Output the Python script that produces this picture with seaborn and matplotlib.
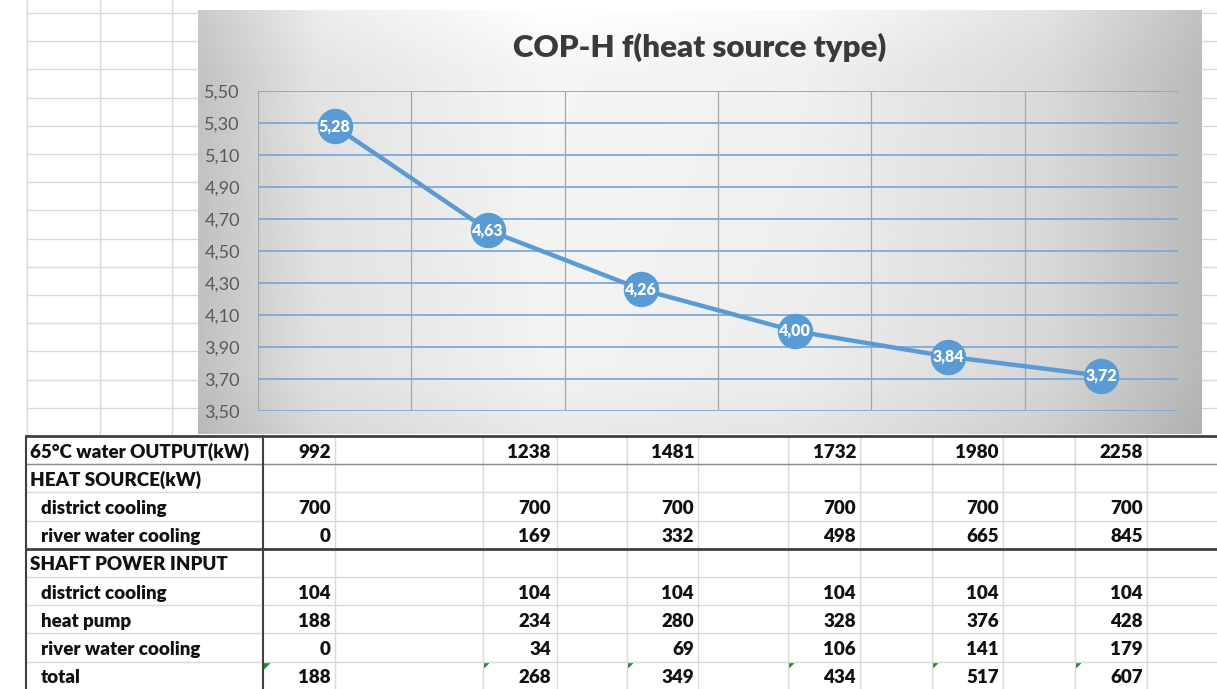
import matplotlib
matplotlib.use("Agg")
import matplotlib.pyplot as plt
from matplotlib.patches import Polygon
import seaborn as sns
import numpy as np
import pandas as pd

# ---- data ----
categories = ["992", "1238", "1481", "1732", "1980", "2258"]
cop_h = [5.28, 4.63, 4.26, 4.00, 3.84, 3.72]
cop_labels = ["5,28", "4,63", "4,26", "4,00", "3,84", "3,72"]
yticks = [3.5, 3.7, 3.9, 4.1, 4.3, 4.5, 4.7, 4.9, 5.1, 5.3, 5.5]
ytick_labels = ["3,50", "3,70", "3,90", "4,10", "4,30", "4,50", "4,70", "4,90", "5,10", "5,30", "5,50"]

row_labels = ["65°C water OUTPUT(kW)", "HEAT SOURCE(kW)", "district cooling", "river water cooling",
              "SHAFT POWER INPUT", "district cooling", "heat pump", "river water cooling", "total"]
row_indent = [False, False, True, True, False, True, True, True, True]
water_output = [992, 1238, 1481, 1732, 1980, 2258]
hs_district = [700, 700, 700, 700, 700, 700]
hs_river = [0, 169, 332, 498, 665, 845]
sp_district = [104, 104, 104, 104, 104, 104]
sp_heat_pump = [188, 234, 280, 328, 376, 428]
sp_river = [0, 34, 69, 106, 141, 179]
sp_total = [188, 268, 349, 434, 517, 607]
table_rows = [water_output, None, hs_district, hs_river, None, sp_district, sp_heat_pump, sp_river, sp_total]

BLUE = "#5B9BD5"
FONT = ["Lato", "DejaVu Sans"]
BOLD = "heavy"

sns.set_style("white")
plt.rcParams['font.family'] = FONT

W, H = 1217, 689
fig = plt.figure(figsize=(W / 100, H / 100), dpi=100)
fig.set_facecolor("white")

# pixel-space canvas for the spreadsheet
bg = fig.add_axes([0, 0, 1, 1])
bg.set_xlim(0, W)
bg.set_ylim(H, 0)
bg.axis("off")

grid_c = "#d9d9d9"
row_h = 28.2
top0 = 13
# sheet gridlines left / right of the chart
for k in range(16):
    y = top0 + k * row_h
    bg.plot([27, 198], [y, y], color=grid_c, lw=1)
    bg.plot([1202, W], [y, y], color=grid_c, lw=1)
for x in [27, 100, 172]:
    bg.plot([x, x], [0, 436], color=grid_c, lw=1)

# table
t0 = 436
val_cols = [335, 483, 557, 627, 698, 788, 860, 932, 1003, 1075, 1147]
for x in val_cols:
    bg.plot([x, x], [t0, H], color=grid_c, lw=1)
for k in range(1, 10):
    y = t0 + k * row_h
    bg.plot([26, W], [y, y], color=grid_c, lw=1)
bg.plot([26, W], [t0 + row_h, t0 + row_h], color="#8c8c8c", lw=1)
bg.plot([26, W], [t0, t0], color="#404040", lw=2)
bg.plot([26, W], [t0 + 4 * row_h, t0 + 4 * row_h], color="#404040", lw=2)
bg.plot([26, 26], [t0, H], color="#404040", lw=1.5)
bg.plot([263, 263], [t0, H], color="#404040", lw=1.5)

value_right = [331, 551, 694, 856, 999, 1143]
for i, lab in enumerate(row_labels):
    yc = t0 + i * row_h + row_h / 2 + 2
    bg.text(41 if row_indent[i] else 30, yc, lab, fontsize=13.5, fontweight=BOLD,
            color="#111111", ha="left", va="center")
    vals = table_rows[i]
    if vals is None:
        continue
    for xr, v in zip(value_right, vals):
        bg.text(xr, yc, f"{v}", fontsize=13.5, fontweight=BOLD, color="#111111",
                ha="right", va="center")

# green error markers in the total row
ty = t0 + 8 * row_h + 1
for x in [264, 483, 627, 788, 932, 1075]:
    bg.add_patch(Polygon([[x, ty], [x + 7, ty], [x, ty + 7]], closed=True, color="#1e8c28", lw=0))

# ---- chart area ----
cx0, cy0, cx1, cy1 = 198, 10, 1202, 434
chart = fig.add_axes([cx0 / W, 1 - cy1 / H, (cx1 - cx0) / W, (cy1 - cy0) / H])
xs = np.linspace(0, 1, 500)
prof = np.interp(xs, [0, 0.12, 0.35, 0.6, 0.85, 1.0], [0.76, 0.89, 0.96, 0.94, 0.85, 0.73])
ys = np.linspace(0, 1, 200)
vprof = np.interp(ys, [0, 0.15, 0.85, 1.0], [1.04, 1.0, 0.99, 0.95])
grad = np.clip(np.outer(vprof, prof), 0, 1)
chart.imshow(grad, cmap="gray", vmin=0, vmax=1, aspect="auto", extent=[0, 1, 0, 1])
chart.set_xlim(0, 1)
chart.set_ylim(0, 1)
chart.axis("off")
chart.text(0.5, 1 - (47 - cy0) / (cy1 - cy0), "COP-H f(heat source type)", transform=chart.transAxes,
           ha="center", va="center", fontsize=22.5, fontweight=BOLD, color="#3a3a3a")

# plot area
px0, py0, px1, py1 = 258, 91, 1178, 411
ax = fig.add_axes([px0 / W, 1 - py1 / H, (px1 - px0) / W, (py1 - py0) / H])
ax.patch.set_alpha(0)
df = pd.DataFrame({"pos": np.arange(len(categories)), "cop": cop_h, "cat": categories})
for y in yticks:
    ax.axhline(y, color="#7ea9d8", lw=1.3, zorder=1)
for b in np.arange(len(categories) + 1) - 0.5:
    ax.axvline(b, color="#a6a6a6", lw=0.9, zorder=1)
sns.lineplot(data=df, x="pos", y="cop", ax=ax, color=BLUE, lw=3.2, marker="o",
             markersize=25.5, markeredgewidth=0, zorder=3)
for xp, yv, lab in zip(df["pos"], df["cop"], cop_labels):
    ax.text(xp, yv, lab, ha="center", va="center", color="white", fontsize=11.5,
            fontweight=BOLD, zorder=4)
ax.set_xlim(-0.5, len(categories) - 0.5)
ax.set_ylim(3.5, 5.5)
ax.set_xticks([])
ax.set_yticks(yticks)
ax.set_yticklabels(ytick_labels, fontsize=13, color="#595959")
ax.tick_params(axis="y", length=0, pad=13)
ax.set_xlabel("")
ax.set_ylabel("")
for s in ax.spines.values():
    s.set_visible(False)

fig.savefig("out.png", dpi=100)
